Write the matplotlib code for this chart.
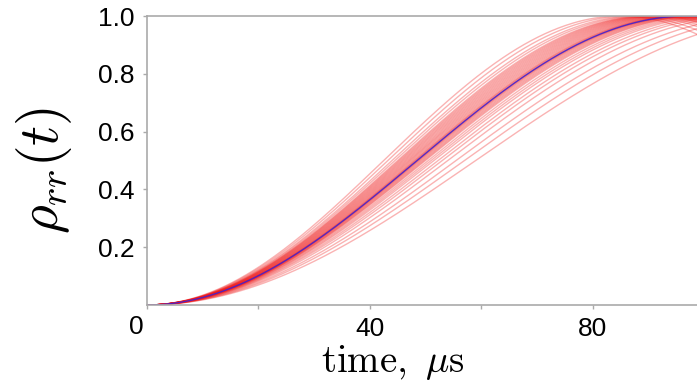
import numpy as np
import matplotlib
matplotlib.use("Agg")
import matplotlib.pyplot as plt

plt.rcParams['mathtext.fontset'] = 'cm'
plt.rcParams['font.family'] = ['Liberation Sans', 'DejaVu Sans']

# pi-pulse times (µs) for the ensemble (red) and the mean (blue)
red_pi_times = [85, 86.5, 88, 89, 90, 90.5, 91, 91.5, 92, 92.5, 93, 93.5, 94,
                94.5, 95, 95.5, 96, 96.3, 96.6, 97, 97.3, 97.6, 98, 98.5, 99,
                99.5, 100, 101, 102, 103, 104.5, 106, 108, 111, 114, 118]
blue_pi_time = 97.0
x_ticks = [0, 20, 40, 60, 80]
x_ticklabels = ['', '', '40', '', '80']
y_ticks = [0.2, 0.4, 0.6, 0.8, 1.0]
y_ticklabels = ['0.2', '0.4', '0.6', '0.8', '1.0']

t = np.linspace(0, 100, 400)

fig = plt.figure(figsize=(6.97, 3.82), dpi=100)
ax = fig.add_axes([147/697, 77/382, 1 - 147/697 + 0.002, 289/382])

for T in red_pi_times:
    ax.plot(t, np.sin(np.pi * t / (2 * T)) ** 2, color='#f01a1a',
            alpha=0.33, lw=1.0)
ax.plot(t, np.sin(np.pi * t / (2 * blue_pi_time)) ** 2, color='#4422cc',
        lw=1.0, alpha=0.9)

ax.set_xlim(0, 99)
ax.set_ylim(0, 1.0)
ax.set_xticks(x_ticks)
ax.set_xticklabels(x_ticklabels)
ax.set_yticks(y_ticks)
ax.set_yticklabels(y_ticklabels)
ax.tick_params(axis='both', labelsize=19, length=3, width=1, color='#aaaaaa')
ax.tick_params(axis='x', pad=6)
ax.tick_params(axis='y', pad=6)
for s in ['left', 'bottom', 'top', 'right']:
    ax.spines[s].set_color('#aaaaaa')
    ax.spines[s].set_linewidth(1.2)
ax.spines['right'].set_visible(False)

ax.annotate('0', xy=(0, 0), xycoords='data', xytext=(-8, -7),
            textcoords='offset points', ha='center', va='top', fontsize=19)

fig.text(44/697, 1 - 170/382, r'$\rho_{rr}(t)$', rotation=90, ha='center',
         va='center', fontsize=40)
fig.text(393/697, 1 - 372/382, r'$\mathrm{time,}\,\,\mu\mathrm{s}$', ha='center',
         va='baseline', fontsize=28)

fig.savefig('out.png', dpi=100)
